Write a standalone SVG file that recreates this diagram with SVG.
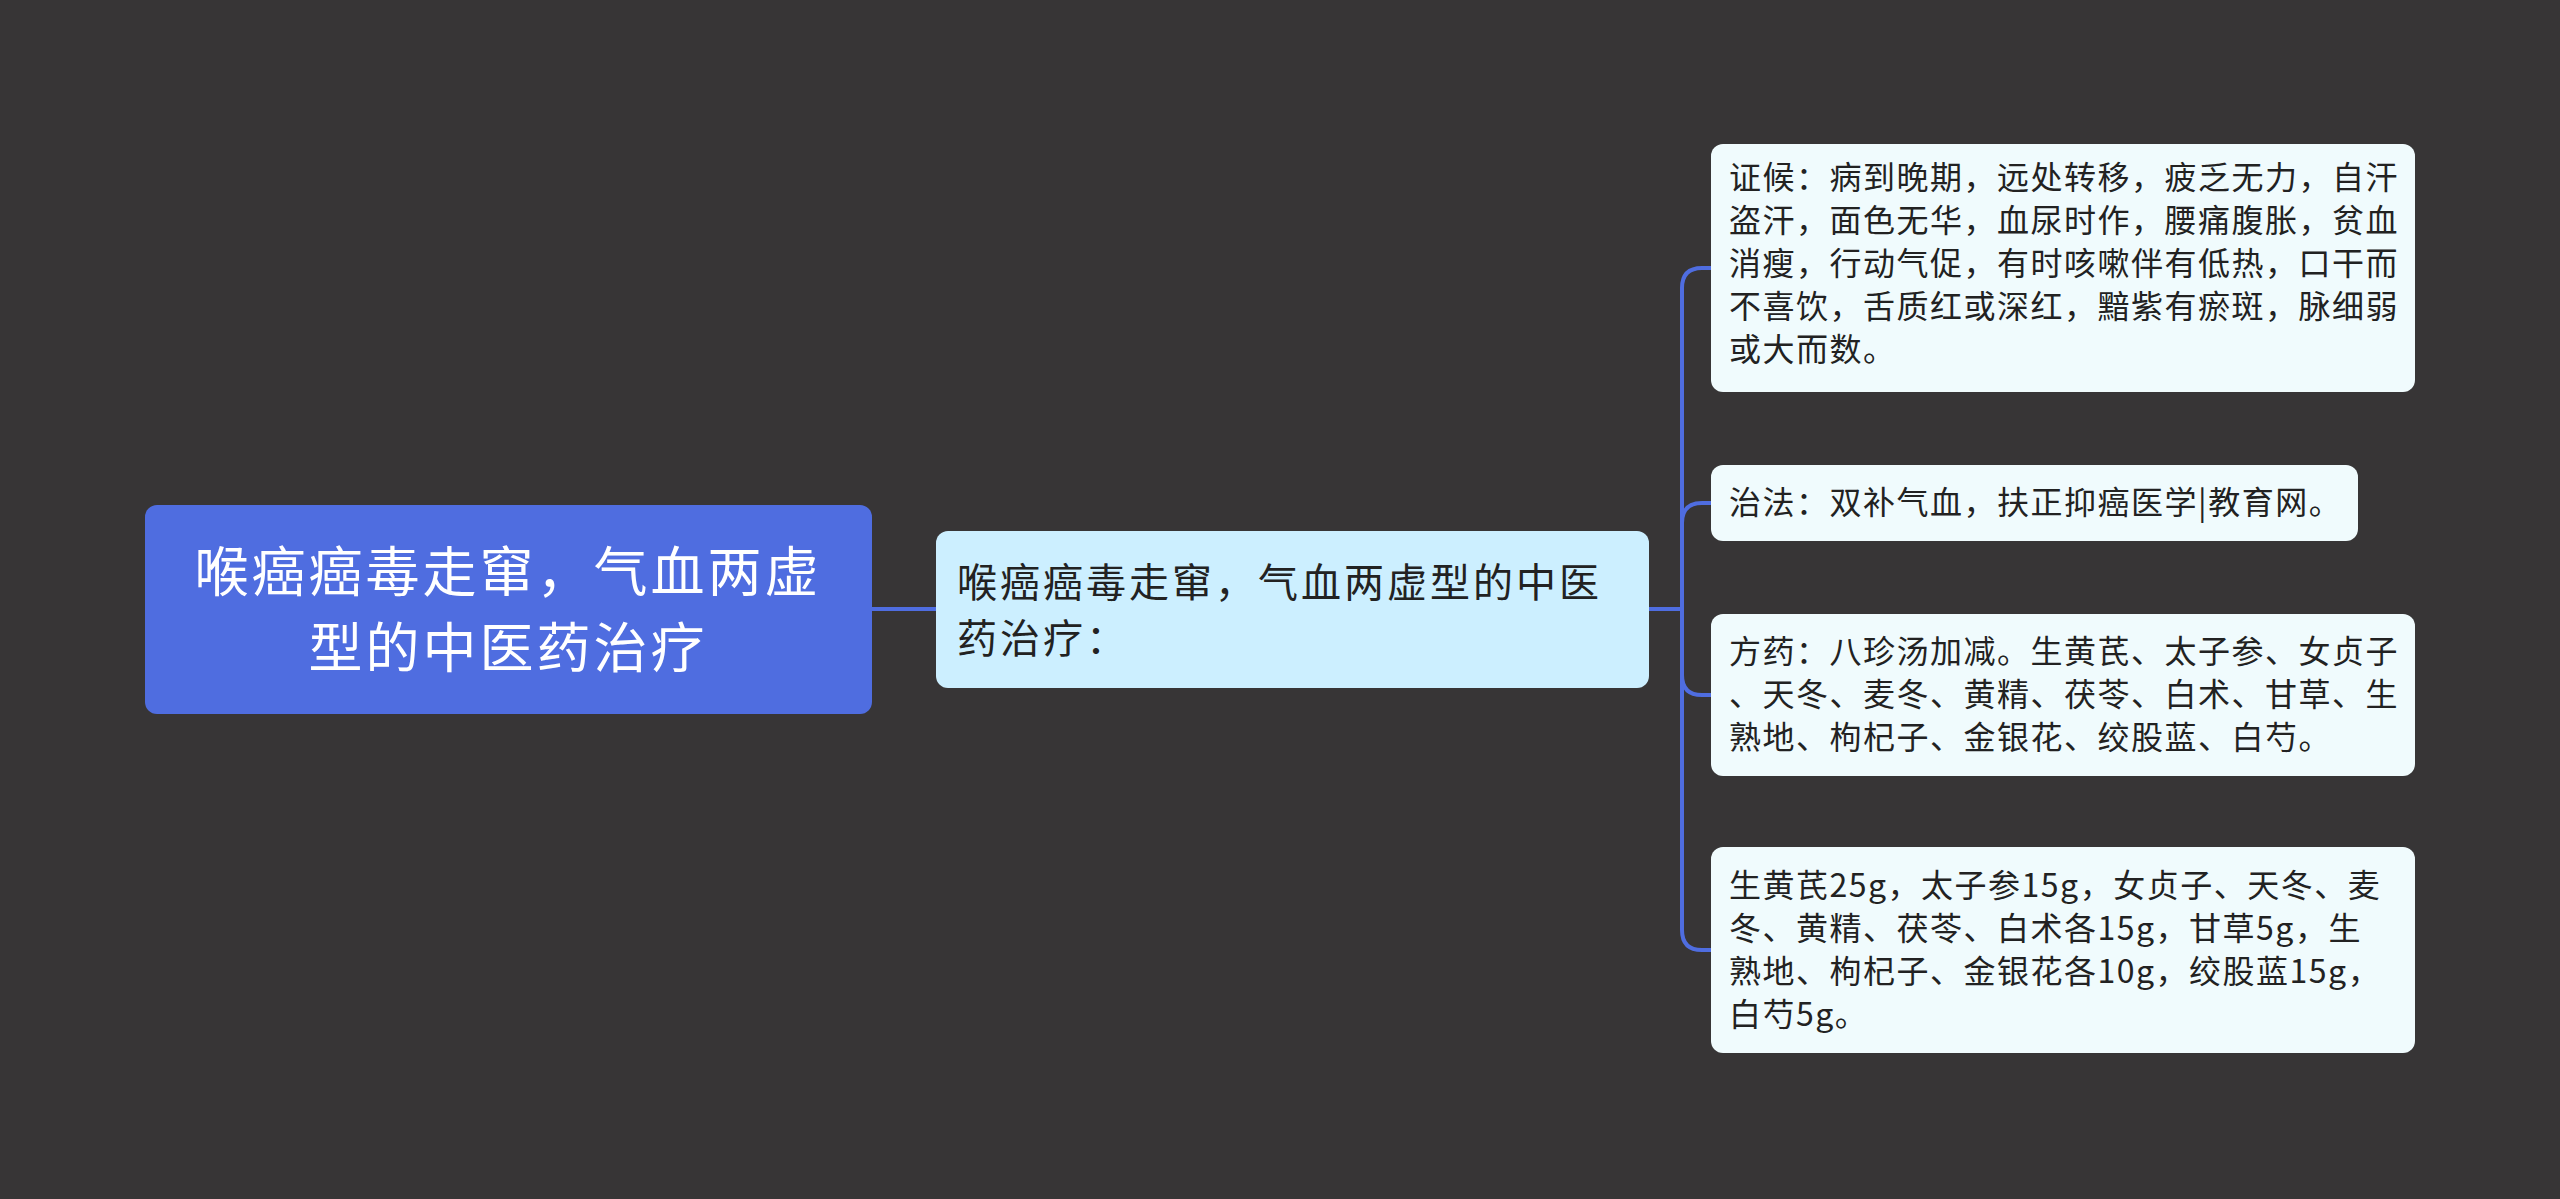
<svg xmlns="http://www.w3.org/2000/svg" width="2560" height="1199" viewBox="0 0 2560 1199">
<style>
text{font-family:"Noto Sans CJK SC","Noto Sans",sans-serif;}
.leaf rect{fill:#f0fbfd;}
.leaf text{font-size:32px;letter-spacing:1.5px;fill:#222;}
.c{fill:none;stroke:#4f6de0;stroke-width:4;}
</style>
<rect width="2560" height="1199" fill="#373536"/>
<g id="connectors">
<path class="c" d="M872 609H936"/>
<path class="c" d="M1649 609H1682"/>
<path class="c" d="M1682 609V288Q1682 268 1702 268H1711"/>
<path class="c" d="M1682 609V523Q1682 503 1702 503H1711"/>
<path class="c" d="M1682 609V675Q1682 695 1702 695H1711"/>
<path class="c" d="M1682 609V930Q1682 950 1702 950H1711"/>
</g>
<g id="root">
<rect x="145" y="505" width="727" height="209" rx="12" fill="#4f6de0"/>
<text x="508" y="592" font-size="54" letter-spacing="3" fill="#fff" text-anchor="middle">喉癌癌毒走窜，气血两虚</text>
<text x="508" y="668" font-size="54" letter-spacing="3" fill="#fff" text-anchor="middle">型的中医药治疗</text>
</g>
<g id="mid">
<rect x="936" y="531" width="713" height="157" rx="12" fill="#ccefff"/>
<text x="957" y="597" font-size="40" letter-spacing="3" fill="#222">喉癌癌毒走窜，气血两虚型的中医</text>
<text x="957" y="653" font-size="40" letter-spacing="3" fill="#222">药治疗：</text>
</g>
<g id="leaf1" class="leaf">
<rect x="1711" y="144" width="704" height="248" rx="12"/>
<text x="1729" y="189">证候：病到晚期，远处转移，疲乏无力，自汗</text>
<text x="1729" y="232">盗汗，面色无华，血尿时作，腰痛腹胀，贫血</text>
<text x="1729" y="275">消瘦，行动气促，有时咳嗽伴有低热，口干而</text>
<text x="1729" y="318">不喜饮，舌质红或深红，黯紫有瘀斑，脉细弱</text>
<text x="1729" y="361">或大而数。</text>
</g>
<g id="leaf2" class="leaf">
<rect x="1711" y="465" width="647" height="76" rx="12"/>
<text x="1729" y="514">治法：双补气血，扶正抑癌医学|教育网。</text>
</g>
<g id="leaf3" class="leaf">
<rect x="1711" y="614" width="704" height="162" rx="12"/>
<text x="1729" y="663">方药：八珍汤加减。生黄芪、太子参、女贞子</text>
<text x="1729" y="706">、天冬、麦冬、黄精、茯苓、白术、甘草、生</text>
<text x="1729" y="749">熟地、枸杞子、金银花、绞股蓝、白芍。</text>
</g>
<g id="leaf4" class="leaf">
<rect x="1711" y="847" width="704" height="206" rx="12"/>
<text x="1729" y="897">生黄芪25g，太子参15g，女贞子、天冬、麦</text>
<text x="1729" y="940">冬、黄精、茯苓、白术各15g，甘草5g，生</text>
<text x="1729" y="983">熟地、枸杞子、金银花各10g，绞股蓝15g，</text>
<text x="1729" y="1026">白芍5g。</text>
</g>
</svg>
